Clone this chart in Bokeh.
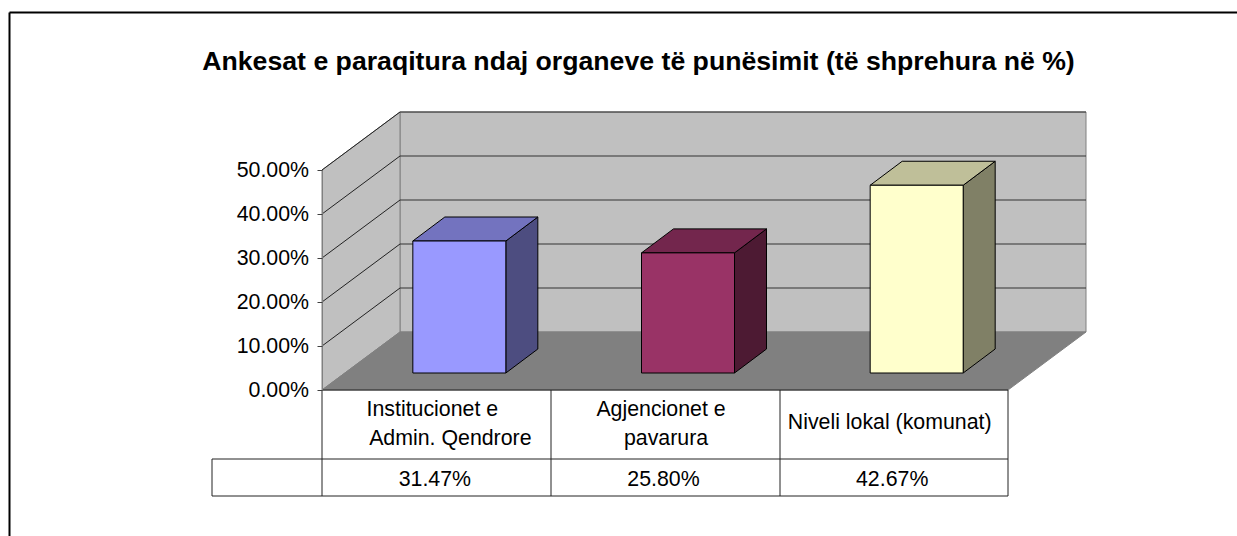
from bokeh.core.properties import value
from bokeh.embed import file_html
from bokeh.models import FixedTicker, LinearAxis, PrintfTickFormatter, Range1d
from bokeh.plotting import figure
from bokeh.resources import INLINE

# ---- data ----
title_text = "Ankesat e paraqitura ndaj organeve të punësimit (të shprehura në %)"
category_lines = [["Institucionet e", "Admin. Qendrore"], ["Agjencionet e", "pavarura"], ["Niveli lokal (komunat)"]]
table_labels = ["31.47%", "25.80%", "42.67%"]
bar_values = [30.0, 27.3, 42.67]          # bar heights
y_ticks = [0, 10, 20, 30, 40, 50]
front_colors = ["#9999FF", "#993366", "#FFFFCC"]
top_colors = ["#7373BF", "#73264D", "#BFBF99"]
side_colors = ["#4D4D80", "#4D1A33", "#808066"]

# ---- layout ----
W, H = 1237, 536
PX = 4.4                     # pixels per percent
Y0 = 389.5                   # pixel row of 0 %
AX = 321.5                   # front-left corner
CW = 228.67                  # category width
DX, DY = 78.0, 58.0          # depth of the box
BDX, BDY = 32.0, 24.0        # depth of a bar
BOFF_X, BOFF_Y = 23.0, 17.0  # bar offset from the front plane
BW = 93.0
FONT = "Liberation Sans"
FS = "21.33px"

def vy(pixel):
    return (Y0 - pixel) / PX

p = figure(width=W, height=H, output_backend="svg", toolbar_location=None,
           x_range=Range1d(0, W), y_range=Range1d(vy(H), vy(0)),
           x_axis_type=None, y_axis_type=None, min_border=0,
           outline_line_color=None, background_fill_color="white", border_fill_color="white")
p.grid.visible = False

# outer chart border
p.segment([9, 9], [vy(12), vy(12)], [9, W], [vy(H), vy(12)], line_color="black", line_width=2)

# title
p.text([638], [vy(60)], text=[title_text], text_font=value(FONT), text_font_style="bold",
       text_font_size="26.67px", text_align="center", text_baseline="middle", text_color="black")

# walls and floor
top_v = y_ticks[-1]
ddy = DY / PX
right = AX + 3 * CW
WALL = "#C0C0C0"; FLOOR = "#808080"; EDGE = "#808080"
p.patch([AX + DX, right + DX, right + DX, AX + DX], [ddy, ddy, ddy + top_v, ddy + top_v],
        fill_color=WALL, line_color=EDGE, line_width=1)
p.patch([AX, AX + DX, AX + DX, AX], [0, ddy, ddy + top_v, top_v],
        fill_color=WALL, line_color=EDGE, line_width=1)
grid = y_ticks[1:-1] + [top_v]
p.segment([AX] * len(grid), grid, [AX + DX] * len(grid), [g + ddy for g in grid], line_color="#222222", line_width=1)
p.segment([AX + DX] * len(grid), [g + ddy for g in grid], [right + DX] * len(grid), [g + ddy for g in grid],
          line_color="#333333", line_width=1)
p.patch([AX, AX + DX, right + DX, right], [0, ddy, ddy, 0], fill_color=FLOOR, line_color=EDGE, line_width=1)

# bars
lefts = [AX + (i + 0.5) * CW + BOFF_X - BW / 2 for i in range(3)]
rights = [l + BW for l in lefts]
base = BOFF_Y / PX
tops = [base + v for v in bar_values]
bd = BDY / PX
p.patches([[r, r + BDX, r + BDX, r] for r in rights],
          [[base, base + bd, t + bd, t] for t in tops],
          fill_color=side_colors, line_color="black", line_width=1)
p.patches([[l, l + BDX, r + BDX, r] for l, r in zip(lefts, rights)],
          [[t, t + bd, t + bd, t] for t in tops],
          fill_color=top_colors, line_color="black", line_width=1)
p.quad(left=lefts, right=rights, bottom=[base] * 3, top=tops,
       fill_color=front_colors, line_color="black", line_width=1)

# data table
row1 = vy(458.5)
row2 = vy(495.5)
stub = 211.5
xs = [AX, 550.5, 779.5, right]
p.segment(xs, [0] * 4, xs, [row2] * 4, line_color="#222222", line_width=1)
p.segment([AX, stub, stub, stub], [0, row1, row2, row1], [right, right, right, stub], [0, row1, row2, row2],
          line_color="#222222", line_width=1)

# category and value labels in the table
cat_dx = [[-4, 14], [-4, 1], [-4]]
line_px = {1: [421.5], 2: [408, 437]}
tx, ty, tt = [], [], []
for i, lines in enumerate(category_lines):
    for line, dx, py in zip(lines, cat_dx[i], line_px[len(lines)]):
        tx.append(AX + (i + 0.5) * CW + dx); ty.append(vy(py)); tt.append(line)
for i, lab in enumerate(table_labels):
    tx.append(AX + (i + 0.5) * CW - 1.5); ty.append(vy(478)); tt.append(lab)
p.text(tx, ty, text=tt, text_font=value(FONT), text_font_size=FS, text_align="center",
       text_baseline="middle", text_color="black")

# value axis
ax = LinearAxis(ticker=FixedTicker(ticks=y_ticks), formatter=PrintfTickFormatter(format="%.2f%%"),
                fixed_location=AX, bounds=(0, 50))
ax.axis_line_color = "#808080"
ax.major_tick_line_color = "#404040"
ax.major_tick_out = 5
ax.major_tick_in = 0
ax.minor_tick_line_color = None
ax.major_label_standoff = 8
ax.major_label_text_font = FONT
ax.major_label_text_font_size = FS
ax.major_label_text_color = "black"
p.add_layout(ax, "left")

open("out.html", "w").write(file_html(p, INLINE))
